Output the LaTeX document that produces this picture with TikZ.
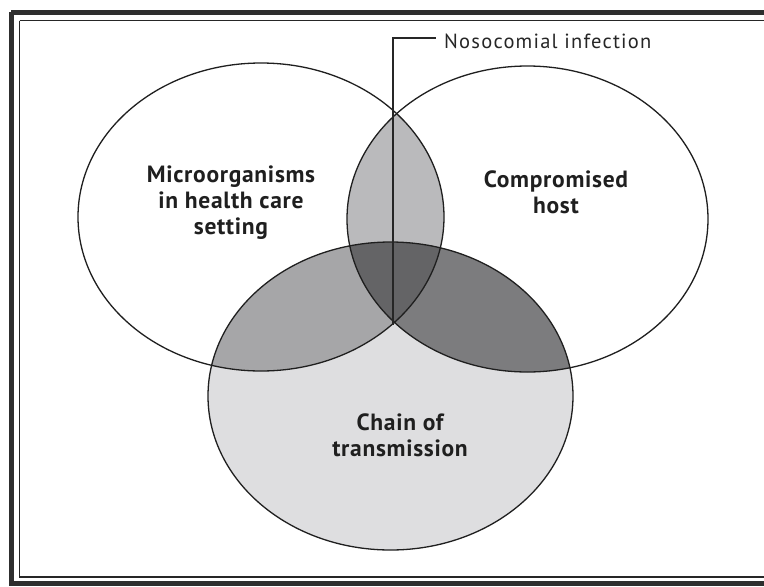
\documentclass[tikz,border=0pt]{standalone}
\usepackage{fontspec}
\setmainfont{PT Sans}
\newfontfamily\labfont[LetterSpace=3]{PT Sans}
\newfontfamily\calfont[LetterSpace=6]{PT Sans}
\begin{document}
\begin{tikzpicture}[x=1pt,y=-1pt,
  outline/.style={draw=black!88, line width=1.3pt},
  lab/.style={font=\labfont\fontsize{23.5}{26}\selectfont\bfseries, align=center, text=black!88, inner sep=0pt},
  callout/.style={font=\calfont\fontsize{20.5}{22}\selectfont, text=black!85, inner sep=0pt, anchor=west},
  leader/.style={draw=black!85, line width=1.2pt}]
\useasboundingbox (0,0) rectangle (764,587);
\clip (0,0) rectangle (764,587);
\fill[white] (0,0) rectangle (764,587);
% frame
\draw[black!82, line width=5pt] (11,12) -- (790,12) (11,12) -- (11,583) -- (790,583);
\draw[black!85, line width=1.8pt] (19.5,20.5) -- (790,20.5) (19.5,20.5) -- (19.5,577) -- (790,577);
% shading
\def\Lell{(261,217) ellipse [x radius=183pt, y radius=154pt]}
\def\Rell{(527.5,219) ellipse [x radius=180.5pt, y radius=153pt]}
\def\Bell{(390.5,396) ellipse [x radius=182.5pt, y radius=154pt]}
\fill[fill={rgb,255:red,222;green,222;blue,224}] \Bell;
\begin{scope}\clip \Lell; \fill[fill={rgb,255:red,186;green,186;blue,188}] \Rell; \end{scope}
\begin{scope}\clip \Lell; \fill[fill={rgb,255:red,166;green,166;blue,168}] \Bell; \end{scope}
\begin{scope}\clip \Rell; \fill[fill={rgb,255:red,124;green,124;blue,126}] \Bell; \end{scope}
\begin{scope}\clip \Lell; \clip \Rell; \fill[fill={rgb,255:red,100;green,100;blue,102}] \Bell; \end{scope}
% outlines
\draw[outline] \Lell;
\draw[outline] \Rell;
\draw[outline] \Bell;
% labels
\node[lab] (micro) at (231,203) {Microorganisms\\in health care\\setting};
\node[lab] (host) at (556,192) {Compromised\\host};
\node[lab] (chain) at (400,435) {Chain of\\transmission};
% callout
\coordinate (triple) at (393,325);
\coordinate (bend) at (393,38);
\node[callout] (noso) at (444,41) {Nosocomial infection};
\coordinate (noso end) at (436,38);
\draw[leader] (triple) -- (bend) -- (noso end);
\end{tikzpicture}
\end{document}
